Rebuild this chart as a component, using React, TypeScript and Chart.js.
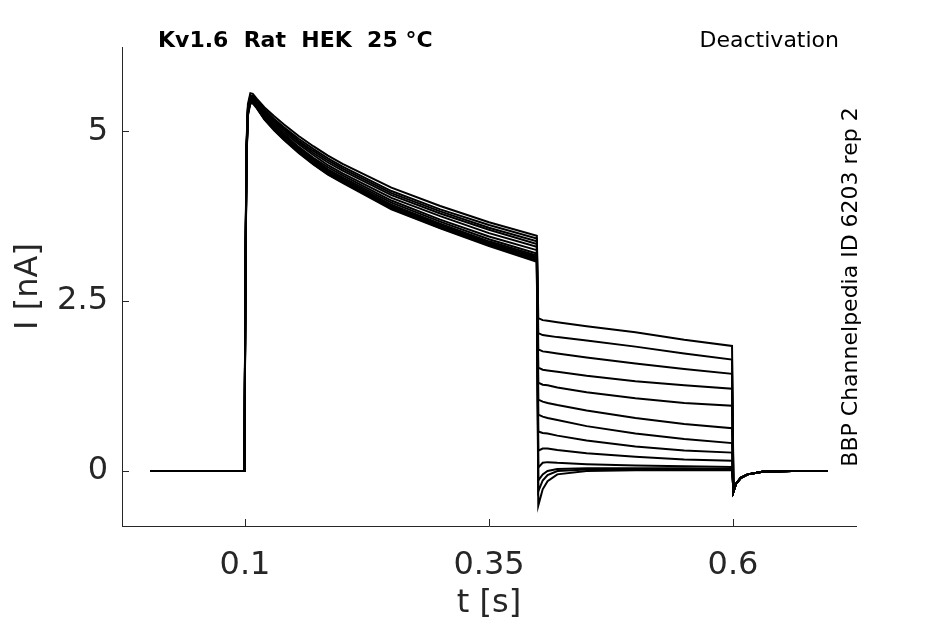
import { useEffect, useRef } from 'react';
import Chart from 'chart.js/auto';

// time samples (s) for each phase of the protocol
const baseTimes = [0.003, 0.03, 0.06, 0.0995];
const baseValues = [0, 0, 0, 0];
const actTimes = [0.1003, 0.1015, 0.103, 0.1055, 0.108, 0.112, 0.12, 0.13, 0.14, 0.155, 0.17, 0.185, 0.2, 0.25, 0.3, 0.35, 0.399];
const tailTimes = [0.4005, 0.405, 0.41, 0.42, 0.45, 0.5, 0.55, 0.599];
const offTimes = [0.6005, 0.603, 0.608, 0.615, 0.63, 0.66, 0.697];
const offValues = [-0.3, -0.19, -0.1, -0.05, -0.01, 0, 0];

// current (nA) during the activating step, one row per sweep
const actValues = [
  [2.6, 4.8, 5.4, 5.56, 5.55, 5.48, 5.35, 5.22, 5.1, 4.93, 4.78, 4.64, 4.52, 4.17, 3.9, 3.66, 3.46],
  [2.5, 4.7, 5.35, 5.52, 5.52, 5.45, 5.32, 5.18, 5.06, 4.89, 4.74, 4.6, 4.48, 4.12, 3.85, 3.62, 3.42],
  [2.6, 4.75, 5.35, 5.53, 5.5, 5.44, 5.3, 5.16, 5.04, 4.86, 4.71, 4.57, 4.45, 4.09, 3.82, 3.58, 3.38],
  [2.5, 4.7, 5.33, 5.51, 5.5, 5.43, 5.28, 5.14, 5.02, 4.84, 4.68, 4.54, 4.42, 4.06, 3.79, 3.55, 3.34],
  [2.4, 4.65, 5.3, 5.49, 5.48, 5.41, 5.26, 5.12, 4.99, 4.81, 4.65, 4.5, 4.38, 4.02, 3.75, 3.5, 3.3],
  [2.5, 4.7, 5.32, 5.49, 5.47, 5.4, 5.24, 5.09, 4.96, 4.77, 4.61, 4.47, 4.35, 3.98, 3.7, 3.45, 3.25],
  [2.4, 4.65, 5.29, 5.47, 5.46, 5.39, 5.23, 5.08, 4.94, 4.75, 4.59, 4.44, 4.32, 3.95, 3.67, 3.41, 3.2],
  [2.5, 4.65, 5.3, 5.46, 5.45, 5.38, 5.22, 5.07, 4.93, 4.74, 4.57, 4.42, 4.3, 3.92, 3.64, 3.38, 3.17],
  [2.4, 4.6, 5.27, 5.45, 5.44, 5.37, 5.2, 5.05, 4.91, 4.72, 4.55, 4.4, 4.28, 3.9, 3.62, 3.36, 3.15],
  [2.4, 4.62, 5.27, 5.44, 5.43, 5.36, 5.19, 5.04, 4.9, 4.71, 4.54, 4.39, 4.27, 3.88, 3.6, 3.34, 3.13],
  [2.4, 4.6, 5.25, 5.43, 5.42, 5.35, 5.18, 5.03, 4.89, 4.7, 4.53, 4.38, 4.26, 3.87, 3.59, 3.33, 3.11],
  [2.3, 4.58, 5.25, 5.43, 5.42, 5.35, 5.18, 5.02, 4.88, 4.69, 4.52, 4.37, 4.25, 3.86, 3.58, 3.32, 3.1],
  [2.3, 4.55, 5.23, 5.41, 5.41, 5.34, 5.17, 5.01, 4.87, 4.68, 4.51, 4.36, 4.24, 3.85, 3.57, 3.31, 3.08],
];

// tail currents (nA) at the deactivating step
const tailValues = [
  [2.25, 2.22, 2.21, 2.19, 2.13, 2.04, 1.93, 1.84],
  [2.03, 2.0, 1.99, 1.97, 1.92, 1.83, 1.73, 1.64],
  [1.79, 1.76, 1.75, 1.73, 1.67, 1.58, 1.5, 1.43],
  [1.52, 1.49, 1.48, 1.46, 1.4, 1.32, 1.26, 1.21],
  [1.3, 1.27, 1.26, 1.23, 1.16, 1.07, 1.0, 0.96],
  [1.05, 1.02, 1.0, 0.97, 0.89, 0.78, 0.69, 0.63],
  [0.83, 0.8, 0.78, 0.75, 0.66, 0.55, 0.47, 0.41],
  [0.58, 0.56, 0.55, 0.52, 0.45, 0.36, 0.3, 0.27],
  [0.3, 0.33, 0.33, 0.31, 0.26, 0.21, 0.17, 0.15],
  [0.05, 0.12, 0.13, 0.12, 0.1, 0.08, 0.07, 0.06],
  [-0.14, -0.05, 0.0, 0.03, 0.04, 0.04, 0.04, 0.03],
  [-0.3, -0.14, -0.06, 0.0, 0.02, 0.02, 0.02, 0.02],
  [-0.51, -0.27, -0.15, -0.05, 0.0, 0.01, 0.01, 0.01],
];

const xTicks = [0.1, 0.35, 0.6];
const yTicks = [0, 2.5, 5];

const FONT = "'DejaVu Sans', sans-serif";
const INK = '#262626';

const innerTicks = {
  id: 'innerTicks',
  afterDraw(chart: any) {
    const { ctx, chartArea, scales } = chart;
    ctx.save();
    ctx.strokeStyle = INK;
    ctx.lineWidth = 1;
    ctx.beginPath();
    xTicks.forEach((v) => {
      const px = Math.round(scales.x.getPixelForValue(v)) + 0.5;
      ctx.moveTo(px, chartArea.bottom);
      ctx.lineTo(px, chartArea.bottom - 7);
    });
    yTicks.forEach((v) => {
      const py = Math.round(scales.y.getPixelForValue(v)) + 0.5;
      ctx.moveTo(chartArea.left, py);
      ctx.lineTo(chartArea.left + 7, py);
    });
    ctx.stroke();

    ctx.fillStyle = '#000';
    ctx.textBaseline = 'alphabetic';
    ctx.font = `bold 22px ${FONT}`;
    ctx.textAlign = 'left';
    ctx.fillText('Kv1.6  Rat  HEK  25 °C', 158, 47);
    ctx.font = `22px ${FONT}`;
    ctx.textAlign = 'right';
    ctx.fillText('Deactivation', 839, 47);
    ctx.translate(857, 287);
    ctx.rotate(-Math.PI / 2);
    ctx.textAlign = 'center';
    ctx.font = `22px ${FONT}`;
    ctx.fillText('BBP Channelpedia ID 6203 rep 2', 0, 0);
    ctx.restore();
  },
};

export default function App() {
  const canvasRef = useRef<HTMLCanvasElement | null>(null);

  useEffect(() => {
    if (!canvasRef.current) return;

    const datasets = actValues.map((act, s) => ({
      data: [
        ...baseTimes.map((t, i) => ({ x: t, y: baseValues[i] })),
        ...actTimes.map((t, i) => ({ x: t, y: act[i] })),
        ...tailTimes.map((t, i) => ({ x: t, y: tailValues[s][i] })),
        ...offTimes.map((t, i) => ({ x: t, y: offValues[i] })),
      ],
      borderColor: '#000',
      borderWidth: 2,
      pointRadius: 0,
      showLine: true,
      tension: 0,
    }));

    const chart = new Chart(canvasRef.current, {
      type: 'scatter',
      data: { datasets },
      options: {
        animation: false,
        responsive: false,
        layout: { padding: { top: 47, right: 89, left: 0, bottom: 0 } },
        plugins: { legend: { display: false }, tooltip: { enabled: false } },
        scales: {
          x: {
            type: 'linear',
            min: -0.026,
            max: 0.726,
            afterBuildTicks: (s: any) => {
              s.ticks = xTicks.map((v) => ({ value: v }));
            },
            afterFit: (s: any) => {
              s.height = 98;
            },
            grid: { display: false, drawTicks: false },
            border: { display: true, color: INK, width: 1 },
            ticks: {
              color: INK,
              padding: 20,
              font: { family: FONT, size: 32 },
              callback: (v: any) => String(v),
            },
            title: {
              display: true,
              text: 't [s]',
              color: INK,
              font: { family: FONT, size: 32 },
              padding: { top: 0, bottom: 1 },
            },
          },
          y: {
            type: 'linear',
            min: -0.81,
            max: 6.24,
            afterBuildTicks: (s: any) => {
              s.ticks = yTicks.map((v) => ({ value: v }));
            },
            afterFit: (s: any) => {
              s.width = 122;
            },
            grid: { display: false, drawTicks: false },
            border: { display: true, color: INK, width: 1 },
            ticks: {
              color: INK,
              padding: 14,
              font: { family: FONT, size: 32 },
              callback: (v: any) => String(v),
            },
            title: {
              display: true,
              text: 'I [nA]',
              color: INK,
              font: { family: FONT, size: 32 },
              padding: { top: 9, bottom: 0 },
            },
          },
        },
      },
      plugins: [innerTicks],
    });

    return () => chart.destroy();
  }, []);

  return (
    <div style={{ position: 'absolute', left: 0, top: 0, width: 945, height: 624, background: '#fff' }}>
      <canvas ref={canvasRef} width={945} height={624} />
    </div>
  );
}
